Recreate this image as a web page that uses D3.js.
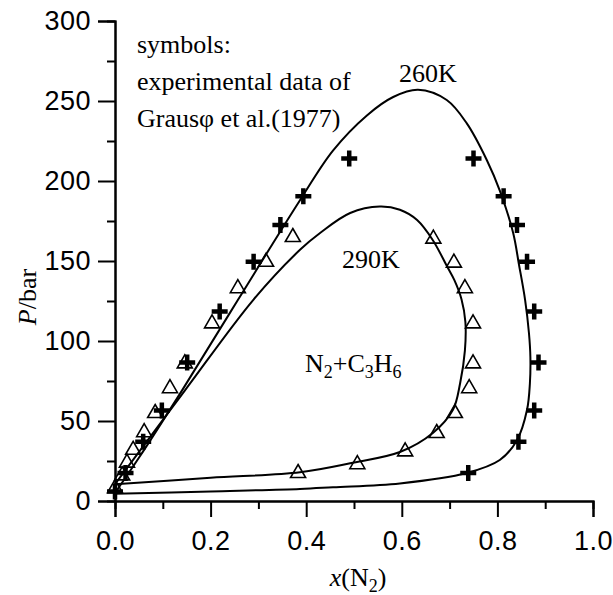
<!DOCTYPE html>
<html><head><meta charset="utf-8">
<script src="https://cdn.jsdelivr.net/npm/d3@7"></script>
<style>
body{margin:0;background:#fff;}
svg{display:block;}
.tick text{font-family:"Liberation Sans",Arial,sans-serif;font-size:27px;fill:#000;letter-spacing:0.5px;}
.serif{font-family:"Liberation Serif","Times New Roman",serif;fill:#000;}
</style></head>
<body><svg id="c" width="613" height="595"></svg>
<script>
// 260K experimental data (crosses)
const x260 = [0.0, 0.022, 0.059, 0.098, 0.151, 0.219, 0.29, 0.346, 0.394, 0.49, 0.75, 0.813, 0.841, 0.862, 0.877, 0.886, 0.877, 0.844, 0.739];
const P260 = [6, 17.5, 37, 56.5, 86.5, 118.5, 149.5, 172.5, 190.5, 214, 214, 190.5, 172.5, 149.5, 118.5, 86.5, 56.5, 37, 17.5];
// 290K experimental data (triangles)
const x290 = [0.0, 0.015, 0.025, 0.038, 0.061, 0.084, 0.115, 0.146, 0.203, 0.257, 0.316, 0.372, 0.666, 0.709, 0.732, 0.749, 0.749, 0.741, 0.711, 0.673, 0.607, 0.507, 0.383];
const P290 = [8, 16, 24, 32, 43, 55, 70.5, 86, 111, 133, 149.5, 165, 164, 149, 133, 111, 86, 70.5, 55, 42.5, 31, 23, 17.5];
// model curves (traced)
const curve260x = [0, 0.2, 0.387, 0.456, 0.596, 0.736, 0.805, 0.841, 0.862, 0.868, 0.869, 0.866, 0.858, 0.845, 0.833, 0.805, 0.778, 0.736, 0.694, 0.634, 0.582, 0.527, 0.456, 0.387, 0.257, 0.14, 0.05, 0];
const curve260P = [4.5, 6, 7.5, 8.6, 11, 17.5, 25.6, 38, 57, 73.6, 90, 105, 125.6, 148, 167.5, 194, 213, 236, 250.6, 257, 252.5, 241, 219, 188, 125.6, 69, 27, 5];
const curve290x = [0, 0.2, 0.387, 0.492, 0.596, 0.665, 0.707, 0.722, 0.732, 0.733, 0.725, 0.71, 0.694, 0.665, 0.632, 0.596, 0.554, 0.492, 0.429, 0.387, 0.289, 0.146, 0];
const curve290P = [10.5, 14.5, 18, 23.6, 30.6, 42.5, 57, 73.6, 94, 112, 126, 138, 147, 163, 175.6, 182, 184, 180, 167.5, 157, 125.6, 69, 10.5];
const xMajor = [0, 0.2, 0.4, 0.6, 0.8, 1.0];
const xMinor = [0.1, 0.3, 0.5, 0.7, 0.9];
const yMajor = [0, 50, 100, 150, 200, 250, 300];
const yMinor = [25, 75, 125, 175, 225, 275];

const svg = d3.select("#c");
const x = d3.scaleLinear().domain([0, 1]).range([115, 593]);
const y = d3.scaleLinear().domain([0, 300]).range([501, 21]);

function styleAxis(g){
  g.select(".domain").attr("stroke","#000").attr("stroke-width",2);
  g.selectAll(".tick line").attr("stroke","#000").attr("stroke-width",2);
}
// minor ticks
svg.append("g").attr("transform","translate(115,0)")
  .call(d3.axisLeft(y).tickValues(yMinor).tickSize(8).tickFormat(""))
  .call(styleAxis);
svg.append("g").attr("transform","translate(0,501)")
  .call(d3.axisBottom(x).tickValues(xMinor).tickSize(8).tickFormat(""))
  .call(styleAxis);
// major ticks
svg.append("g").attr("transform","translate(115,0)")
  .call(d3.axisLeft(y).tickValues(yMajor).tickSize(17).tickPadding(7).tickFormat(d3.format("d")))
  .call(styleAxis);
svg.append("g").attr("transform","translate(0,501)")
  .call(d3.axisBottom(x).tickValues(xMajor).tickSize(16).tickPadding(14).tickFormat(d3.format(".1f")))
  .call(styleAxis);

// curves
const line = d3.line().x(d=>x(d[0])).y(d=>y(d[1])).curve(d3.curveCatmullRom.alpha(0.5));
svg.append("path").datum(curve260x.map((v,i)=>[v,curve260P[i]]))
  .attr("d",line).attr("fill","none").attr("stroke","#000").attr("stroke-width",2);
svg.append("path").datum(curve290x.map((v,i)=>[v,curve290P[i]]))
  .attr("d",line).attr("fill","none").attr("stroke","#000").attr("stroke-width",2);

// triangles
svg.append("g").selectAll("path").data(x290.map((v,i)=>[v,P290[i]])).join("path")
  .attr("transform",d=>`translate(${x(d[0])},${y(d[1])})`)
  .attr("d","M0,-8.5L7.5,4.5L-7.5,4.5Z")
  .attr("fill","none").attr("stroke","#000").attr("stroke-width",1.6);
// crosses
svg.append("g").selectAll("path").data(x260.map((v,i)=>[v,P260[i]])).join("path")
  .attr("transform",d=>`translate(${x(d[0])},${y(d[1])})`)
  .attr("d","M-8,0H8M0,-8V8")
  .attr("fill","none").attr("stroke","#000").attr("stroke-width",4.5);

// annotations
const t = svg.append("g").attr("class","serif").attr("font-size",26);
t.append("text").attr("x",137).attr("y",53).text("symbols:");
t.append("text").attr("x",137).attr("y",90).text("experimental data of");
t.append("text").attr("x",137).attr("y",127).text("Grausφ et al.(1977)");
t.append("text").attr("x",428).attr("y",82).attr("text-anchor","middle").text("260K");
t.append("text").attr("x",371).attr("y",268).attr("text-anchor","middle").text("290K");
const n = t.append("text").attr("x",305).attr("y",372);
n.append("tspan").text("N");
n.append("tspan").attr("dy",6).attr("font-size",18).text("2");
n.append("tspan").attr("dy",-6).text("+C");
n.append("tspan").attr("dy",6).attr("font-size",18).text("3");
n.append("tspan").attr("dy",-6).text("H");
n.append("tspan").attr("dy",6).attr("font-size",18).text("6");

// axis titles
const xl = t.append("text").attr("x",358).attr("y",586).attr("text-anchor","middle");
xl.append("tspan").attr("font-style","italic").text("x");
xl.append("tspan").text("(N");
xl.append("tspan").attr("dy",6).attr("font-size",18).text("2");
xl.append("tspan").attr("dy",-6).text(")");
const yl = t.append("text").attr("transform","translate(36,297) rotate(-90)").attr("text-anchor","middle");
yl.append("tspan").attr("font-style","italic").text("P");
yl.append("tspan").text("/bar");
</script></body></html>
